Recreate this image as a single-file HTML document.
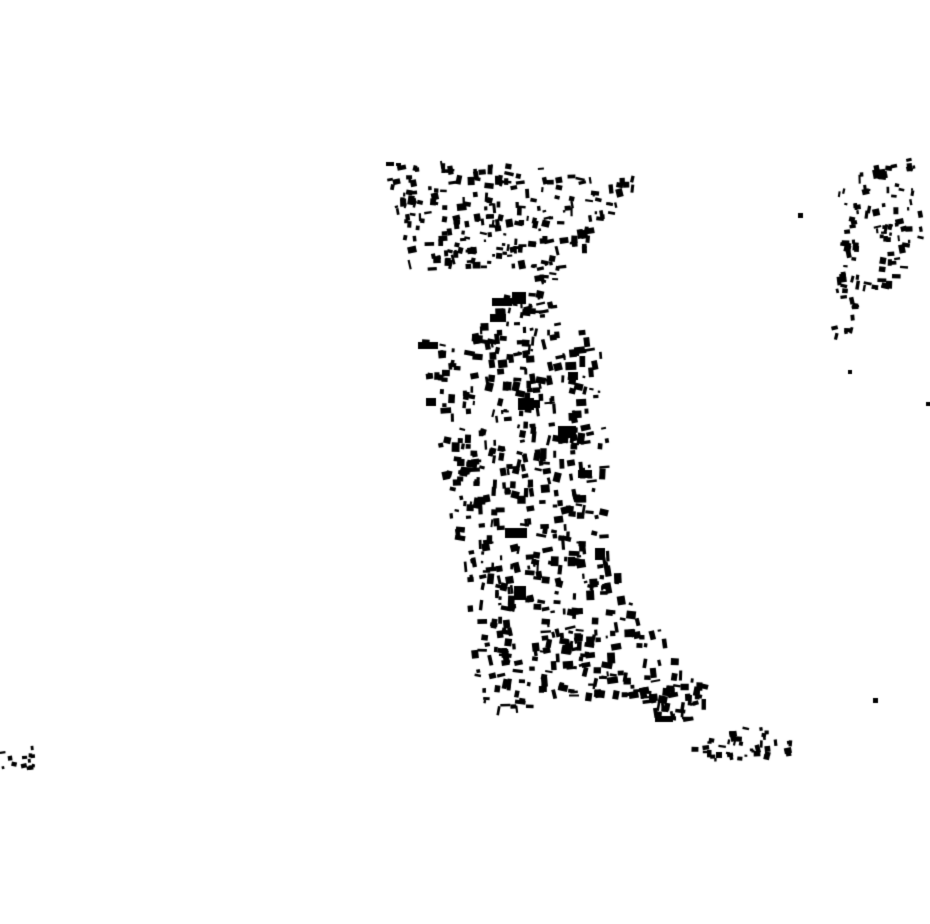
<!DOCTYPE html>
<html><head><meta charset="utf-8"><style>
html,body{margin:0;padding:0;background:#fff;width:930px;height:924px;overflow:hidden}
canvas{display:block}
</style></head><body>
<canvas id="c" width="930" height="924"></canvas>
<script>
(function(){
var c=document.getElementById('c').getContext('2d');
c.fillStyle='#fff';c.fillRect(0,0,930,924);c.fillStyle='#000';
var s=12345;function r(){s=(s*16807)%2147483647;return s/2147483647;}
function inP(x,y,p){var k=false;for(var i=0,j=p.length-1;i<p.length;j=i++){var a=p[i],b=p[j];if(((a[1]>y)!=(b[1]>y))&&(x<(b[0]-a[0])*(y-a[1])/(b[1]-a[1])+a[0]))k=!k;}return k;}
function fill(p,n,mw,mh){var x0=1e9,x1=-1e9,y0=1e9,y1=-1e9;for(var i=0;i<p.length;i++){x0=Math.min(x0,p[i][0]);x1=Math.max(x1,p[i][0]);y0=Math.min(y0,p[i][1]);y1=Math.max(y1,p[i][1]);}var cnt=0,t=0;while(cnt<n&&t<n*50){t++;var x=x0+r()*(x1-x0),y=y0+r()*(y1-y0);if(!inP(x,y,p))continue;var w=2+r()*mw,h=2+r()*mh;if(r()<0.5){var q=w;w=h;h=q;}c.save();c.translate(x,y);c.rotate((r()-0.5)*0.5);c.fillRect(-w/2,-h/2,w,h);c.restore();cnt++;}}
var pTop=[[385,162],[640,170],[635,190],[600,225],[575,265],[560,285],[540,285],[530,265],[480,268],[410,272],[395,210]];
var pMain=[[490,292],[540,290],[575,325],[600,345],[605,380],[605,420],[612,470],[605,540],[625,580],[660,630],[690,670],[720,700],[700,710],[660,725],[640,695],[560,700],[490,715],[478,690],[470,620],[460,560],[450,510],[445,470],[435,450],[455,430],[440,400],[425,380],[418,340],[470,340],[490,320]];
var pTail=[[640,690],[700,680],[725,700],[710,725],[665,725]];
var pBot=[[688,735],[760,726],[805,745],[800,755],[720,762],[690,750]];
var pRight=[[838,180],[915,155],[925,240],[900,280],[860,300],[850,345],[835,340],[830,290],[845,270]];
var pLeft=[[0,748],[35,748],[35,768],[0,768]];
fill(pTop,230,8,5);
fill(pMain,620,9,6);
fill(pTail,25,9,6);
fill(pBot,40,6,4);
fill(pRight,110,7,5);
fill(pLeft,14,4,3);
var big=[[418,342,20,7],[492,298,20,8],[512,292,14,12],[490,314,16,8],[518,398,16,12],[558,426,18,12],[505,528,22,10],[514,586,12,14],[530,400,10,8],[655,716,18,6],[426,398,10,8],[568,372,10,8],[595,548,10,12],[578,470,14,8],[798,213,5,5],[926,402,4,4],[873,698,5,5],[848,370,4,4],[386,162,8,4],[396,163,5,3],[716,752,6,6]];
for(var i=0;i<big.length;i++){var b=big[i];c.fillRect(b[0],b[1],b[2],b[3]);}
})();
</script>
</body></html>
